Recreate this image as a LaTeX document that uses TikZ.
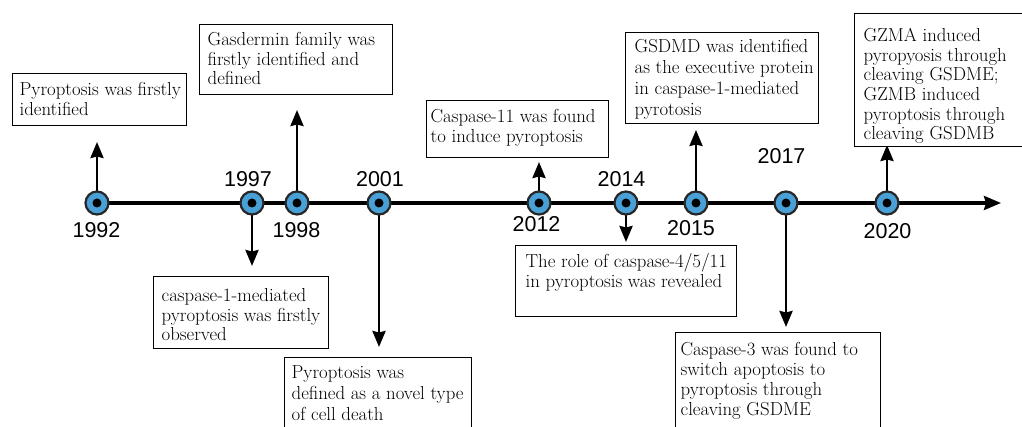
\documentclass[tikz,border=0pt]{standalone}
\usepackage{fontspec}
\newfontfamily\yearfont{Liberation Sans}
\usetikzlibrary{arrows.meta}
\definecolor{dotblue}{RGB}{72,160,214}
\pgfdeclarelayer{bg}
\pgfsetlayers{bg,main}
% #1 width, #2 height, #3 left pad, #4 first baseline, #5 baselineskip, #6 text
\newcommand{\bx}[6]{\parbox[t][#2pt][t]{#1pt}{\fontsize{18.8pt}{#5pt}\selectfont\raggedright\leftskip=#3pt\relax\rule{0pt}{#4pt}#6}}
\tikzset{
  evt/.style={circle, draw=black!85, line width=2.2pt, fill=dotblue, minimum size=23pt, inner sep=0pt,
    path picture={\fill[black] (path picture bounding box.center) circle (4.5pt);}},
  yr/.style={font=\yearfont\fontsize{21.5pt}{24pt}\selectfont, inner sep=0pt},
  ebox/.style={draw=black, line width=1.3pt, inner sep=0pt, anchor=north west, fill=white},
  tl/.style={line width=3.2pt, -{Stealth[length=17pt,width=14pt,inset=2pt]}},
  varr/.style={line width=2.8pt, -{Stealth[length=16pt,width=13pt,inset=1.5pt]}}
}
\begin{document}
\begin{tikzpicture}[x=1pt,y=-1pt]
\clip[use as bounding box] (0,0) rectangle (1022,427);
% event circles
\node[evt] (c1992) at (97,203) {};
\node[evt] (c1997) at (252,203) {};
\node[evt] (c1998) at (297,203) {};
\node[evt] (c2001) at (379,203) {};
\node[evt] (c2012) at (539,203) {};
\node[evt] (c2014) at (626,203) {};
\node[evt] (c2015) at (696,203) {};
\node[evt] (c2017) at (786,203) {};
\node[evt] (c2020) at (887,203) {};
% year labels
\node[yr] (y1992) at (96.5,230) {1992};
\node[yr] (y1997) at (248,179.5) {1997};
\node[yr] (y1998) at (296.5,230) {1998};
\node[yr] (y2001) at (380,179.5) {2001};
\node[yr] (y2012) at (536.5,224) {2012};
\node[yr] (y2014) at (621.5,179.5) {2014};
\node[yr] (y2015) at (691,228.5) {2015};
\node[yr] (y2017) at (781.5,156.5) {2017};
\node[yr] (y2020) at (887.5,231) {2020};
% boxes
\node[ebox] (b1992) at (12,73) {\bx{174}{52}{7}{22}{20}{Pyroptosis was firstly\\identified}};
\node[ebox] (b1998) at (199,24) {\bx{193}{70}{8}{21}{19.5}{Gasdermin family was\\firstly identified and\\defined}};
\node[ebox] (b1997) at (153,276) {\bx{175}{72}{8}{25}{19.5}{caspase-1-mediated\\pyroptosis was firstly\\observed}};
\node[ebox] (b2001) at (284,357) {\bx{187}{100}{7}{21}{21}{Pyroptosis was\\defined as a novel type\\of cell death}};
\node[ebox] (b2012) at (426,100) {\bx{182}{57}{4}{22}{20}{Caspase-11 was found\\to induce pyroptosis}};
\node[ebox] (b2014) at (515,245) {\bx{221}{71}{10}{22}{20}{The role of caspase-4/5/11\\in pyroptosis was revealed}};
\node[ebox] (b2015) at (625,32) {\bx{193}{91}{9}{20}{20.8}{GSDMD was identified\\as the executive protein\\in caspase-1-mediated\\pyrotosis}};
\node[ebox] (b2017) at (675,332) {\bx{205}{120}{5}{23}{20}{Caspase-3 was found to\\switch apoptosis to\\pyroptosis through\\cleaving GSDME}};
\node[ebox] (b2020) at (854,13) {\bx{200}{133}{9}{28}{19.6}{GZMA induced\\pyropyosis through\\cleaving GSDME;\\GZMB induced\\pyroptosis through\\cleaving GSDMB}};
% arrow end points
\coordinate (tend) at (1001,203);
\coordinate (t1992) at (97,142);
\coordinate (t1997) at (252,266);
\coordinate (t1998) at (297,110);
\coordinate (t2001) at (379,347);
\coordinate (t2012) at (539,162);
\coordinate (t2014) at (626,242);
\coordinate (t2015) at (696,130);
\coordinate (t2017) at (786,327);
\coordinate (t2020) at (887,145);
\begin{pgfonlayer}{bg}
\draw[tl] (c1992.center) -- (tend);
\draw[varr] (c1992.center) -- (t1992);
\draw[varr] (c1997.center) -- (t1997);
\draw[varr] (c1998.center) -- (t1998);
\draw[varr] (c2001.center) -- (t2001);
\draw[varr] (c2012.center) -- (t2012);
\draw[varr] (c2014.center) -- (t2014);
\draw[varr] (c2015.center) -- (t2015);
\draw[varr] (c2017.center) -- (t2017);
\draw[varr] (c2020.center) -- (t2020);
\end{pgfonlayer}
\end{tikzpicture}
\end{document}
